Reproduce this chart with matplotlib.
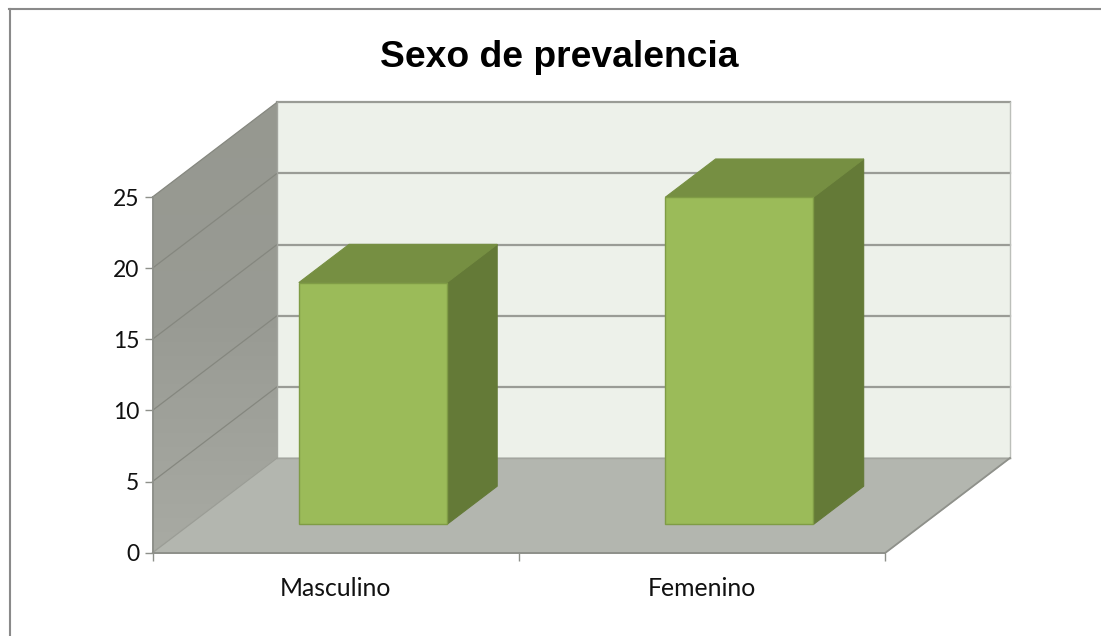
# Sexo de prevalencia - columnas con efecto 3D dibujadas a mano
import matplotlib
matplotlib.use("Agg")
import matplotlib.pyplot as plt
from matplotlib.colors import LinearSegmentedColormap
from matplotlib.patches import Polygon
from matplotlib.lines import Line2D
import numpy as np

categories = ["Masculino", "Femenino"]
values = [17, 23]
y_ticks = [0, 5, 10, 15, 20, 25]

W, H = 1101, 636
# plano frontal en pixeles
LEFT, RIGHT, TOP, BOTTOM = 152.5, 885.5, 197, 552.7
# profundidad total del cubo, en unidades de datos
DX = 124.5 / (RIGHT - LEFT) * len(categories)
DY = 94.7 / (BOTTOM - TOP) * y_ticks[-1]
GAP = 0.298  # hueco a cada lado de la columna
GRID = "#9a9c96"


def proj(x, y, d=0.0):
    # d = 0 delante, d = 1 pared del fondo
    return (x + DX * d, y + DY * d)


def face(ax, pts, color, edge=None, lw=0.8, z=2):
    ax.add_patch(Polygon(pts, closed=True, facecolor=color, edgecolor=edge or color,
                         linewidth=lw, clip_on=False, zorder=z))


fig = plt.figure(figsize=(W / 100, H / 100), dpi=100, facecolor="white")
ax = fig.add_axes([LEFT / W, 1 - BOTTOM / H, (RIGHT - LEFT) / W, (BOTTOM - TOP) / H])
ax.patch.set_visible(False)

n = len(categories)
ymax = y_ticks[-1]

# pared del fondo, suelo
face(ax, [proj(0, ymax, 1), proj(n, ymax, 1), proj(n, 0, 1), proj(0, 0, 1)], "#edf1ea", z=1)
face(ax, [proj(0, 0, 0), proj(n, 0, 0), proj(n, 0, 1), proj(0, 0, 1)], "#b3b6af", z=1.2)

# pared lateral con degradado suave
side_pts = [proj(0, 0, 0), proj(0, 0, 1), proj(0, ymax, 1), proj(0, ymax, 0)]
side_clip = Polygon(side_pts, closed=True, transform=ax.transData)
side_cmap = LinearSegmentedColormap.from_list("pared", ["#a8aaa3", "#999b94", "#969890"])
grad = ax.imshow(np.linspace(0, 1, 64).reshape(-1, 1), extent=(0, DX, 0, ymax + DY),
                 origin="lower", aspect="auto", cmap=side_cmap, zorder=1.15)
grad.set_clip_box(fig.bbox)
grad.set_clip_path(side_clip)
ax.set_xlim(0, n)
ax.set_ylim(0, ymax)

# lineas de division en fondo y pared lateral
for t in y_ticks[1:]:
    x0, y0 = proj(0, t, 1)
    x1, y1 = proj(n, t, 1)
    ax.add_line(Line2D([x0, x1], [y0, y1], color=GRID, lw=1.6, clip_on=False, zorder=1.5))
    xf, yf = proj(0, t, 0)
    ax.add_line(Line2D([xf, x0], [yf, y0], color="#85877f", lw=0.9, clip_on=False, zorder=1.5))

# bordes
for p, q, c, lw in [
    (proj(0, 0, 1), proj(0, ymax, 1), "#a3a59f", 1.0),
    (proj(n, 0, 1), proj(n, ymax, 1), "#bcbfba", 1.0),
    (proj(0, 0, 1), proj(n, 0, 1), "#a3a59f", 1.0),
    (proj(n, 0, 0), proj(n, 0, 1), "#8f918b", 1.3),
    (proj(0, 0, 0), proj(0, 0, 1), "#9b9d96", 1.0),
]:
    ax.add_line(Line2D([p[0], q[0]], [p[1], q[1]], color=c, lw=lw, clip_on=False, zorder=1.6))

# columnas
for i, v in enumerate(values):
    x0 = i + GAP
    x1 = i + 1 - GAP
    d0, d1 = GAP, 1 - GAP
    face(ax, [proj(x1, 0, d0), proj(x1, 0, d1), proj(x1, v, d1), proj(x1, v, d0)], "#647a37", z=3)
    face(ax, [proj(x0, v, d0), proj(x1, v, d0), proj(x1, v, d1), proj(x0, v, d1)], "#768f42", z=3)
    face(ax, [proj(x0, 0, d0), proj(x1, 0, d0), proj(x1, v, d0), proj(x0, v, d0)], "#9bbb59",
         edge="#7f9c45", lw=1.0, z=4)

# ejes
for s in ["top", "right"]:
    ax.spines[s].set_visible(False)
for s in ["left", "bottom"]:
    ax.spines[s].set_color("#8e908a")
    ax.spines[s].set_linewidth(1.4)
    ax.spines[s].set_zorder(5)
ax.set_yticks(y_ticks)
ax.set_xticks(range(n + 1))
ax.set_xticklabels([])
ax.set_xticks([i + 0.5 for i in range(n)], minor=True)
ax.set_xticklabels(categories, minor=True, fontsize=17.8, family="Lato", color="#111111")
ax.tick_params(axis="x", which="major", length=6, width=1.0, color="#8e908a", direction="out")
ax.tick_params(axis="x", which="minor", length=0, pad=17.5)
ax.tick_params(axis="y", length=6, width=1.0, color="#8e908a", direction="out", pad=3.5)
for lab in ax.get_yticklabels():
    lab.set_fontsize(16.5)
    lab.set_family("Lato")
    lab.set_color("#111111")

fig.text(559.5 / W, 1 - 57.5 / H, "Sexo de prevalencia", ha="center", va="center",
         fontsize=26.8, fontweight="bold", family="Liberation Sans", color="black")

# marco del grafico: solo arriba e izquierda
fig.add_artist(Line2D([9.8 / W, 9.8 / W], [0, 1 - 9 / H], color="#8a8a8a", lw=1.5))
fig.add_artist(Line2D([9 / W, 1], [1 - 9 / H, 1 - 9 / H], color="#8a8a8a", lw=1.5))

fig.savefig("out.png", dpi=100)
